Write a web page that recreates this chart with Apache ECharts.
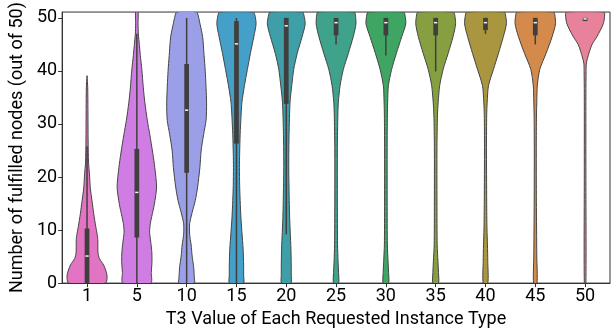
<!DOCTYPE html>
<html><head><meta charset="utf-8">
<script src="https://cdn.jsdelivr.net/npm/echarts@6/dist/echarts.min.js"></script>
<style>html,body{margin:0;padding:0;background:#fff}#c{width:613px;height:333px}</style>
</head><body><div id="c"></div>
<script>
const categories = ['1','5','10','15','20','25','30','35','40','45','50'];
const colors = ['#e374c4','#d07de3','#9a9fe8','#44a0c9','#3e9fa8','#3fa38c','#3fa563','#86a041','#a9963f','#d38a4a','#e8829a'];
const yTicks = [0,10,20,30,40,50];
const yTop = 51.1;

// violin outlines: [value, half-width density]
const violin1 = [[0,18.5],[1.5,20],[3.4,16.7],[4.6,12.5],[5.7,11],[8.2,10.8],[9.4,10],[10.6,8.8],[13.1,6.7],[15.5,5],[17.9,3.3],[20.4,2.5],[22.8,1.5],[26.6,1.1],[32.7,0.9],[36.8,0.7],[39.1,0]];
const violin5 = [[0,14],[2,14.5],[4.1,15.2],[5.9,15],[7.7,14],[9.6,12.8],[11.2,13.5],[12.6,15],[14.8,17.5],[18.1,19.8],[21.8,18],[24.5,16],[28,13],[30.7,10.5],[34.1,8],[36.8,6.5],[40.3,5],[42.9,3.5],[45,2.5],[47,1.5],[49.1,1.2],[51.1,1.2]];
const violin10 = [[0,7.7],[1,7.7],[3.1,7],[5.1,5.5],[7.2,4.5],[9.2,3],[11.2,3],[13.3,5.5],[15.6,8.7],[18.1,11],[21.8,13.3],[24.9,14.5],[28,17],[30.7,19.5],[34.1,20],[39.9,18.7],[42.9,17.5],[46.5,16],[48.8,13.5],[50.1,12],[51.1,10]];
const violin15 = [[0,7],[1.5,7.2],[3.4,7.2],[6.4,6.7],[9.6,5.5],[12.3,4.5],[15.6,3.7],[18.4,3.2],[21.8,3],[24.5,3.2],[28,3.7],[31.2,4.5],[34.1,5.5],[37.2,8],[40.3,11],[43.3,14],[46.5,17.5],[48.9,19.7],[50.7,18.3],[51.1,17]];
const violin20 = [[0,4.7],[1.5,5],[3.4,5],[6.4,4.7],[9.6,4],[12.3,3.4],[15.6,3],[21.8,2.5],[28,2.8],[34.1,3.8],[37.2,5.5],[40.3,7.5],[43.3,11],[46.5,16],[48.9,19],[50.7,17.5],[51.1,16.5]];
const violin25 = [[0,2.5],[2,2.5],[4.1,2],[7.2,1.5],[15.3,1.3],[25.6,1.3],[31.7,1.8],[34.1,2.3],[37.2,4],[40.3,7.3],[43.3,12.3],[46.5,17.3],[48.9,20],[50.7,19.3],[51.1,18.5]];
const violin30 = [[0,2.7],[2,2.7],[4.1,2.2],[7.2,1.5],[15.3,1.3],[25.6,1.3],[31.7,1.5],[34.1,1.8],[37.2,2.5],[40.3,5.8],[43.3,10.5],[46.5,16],[48.9,20],[50.7,19],[51.1,18]];
const violin35 = [[0,2.8],[2,2.8],[4.1,2.3],[7.2,1.5],[15.3,1.3],[25.6,1.3],[31.7,1.8],[34.1,2.5],[37.2,4],[40.3,7.5],[43.3,12.5],[46.5,17.5],[48.9,20],[50.7,19],[51.1,18]];
const violin40 = [[0,2.3],[4.1,2.3],[7.2,2],[10.2,1.5],[15.3,1.2],[25.6,1],[31.7,1.2],[34.1,1.7],[37.2,3],[40.3,8],[43.3,13],[46.5,18],[48.9,21],[50.7,20],[51.1,19]];
const violin45 = [[0,1.7],[5.1,1.5],[15.3,1.1],[25.6,1],[31.7,1.2],[34.1,1.5],[37.2,2],[40.3,4.5],[43.3,10.8],[46.5,17],[48.9,20.3],[50.7,19.5],[51.1,18.5]];
const violin50 = [[0,0.8],[20.4,0.8],[35.8,0.8],[39.9,1],[41.5,1.3],[43.3,3.8],[45,7],[46.5,12],[48.9,18.3],[50.7,19.7],[51.1,19]];

// inner box statistics
const q1 =          [0,    8.6,  20.8, 26.3, 33.8, 46.7, 46.7, 46.7, 47.7, 46.7, 49.4];
const median =      [5.1,  17.1, 32.6, 45.1, 48.5, 49.1, 49.1, 49.1, 49.1, 49.1, 49.8];
const q3 =          [10.3, 25.3, 41.3, 49.4, 50,   50,   50,   50,   50,   50,   50];
const whiskerLow =  [0,    0,    0,    0,    9.2,  45,   42.9, 39.9, 47,   45,   49.4];
const whiskerHigh = [25.8, 47,   50,   50,   50,   50,   50,   50,   50,   50,   50];

const violins = [violin1,violin5,violin10,violin15,violin20,violin25,violin30,violin35,violin40,violin45,violin50];

const FONT = 'Roboto';
const chart = echarts.init(document.getElementById('c'), null, {renderer:'canvas'});

function renderItem(params, api) {
  const i = params.dataIndex;
  const band = api.size([1, 0])[0];
  const k = band / 50;
  const cx = api.coord([i, 0])[0];
  const prof = violins[i];
  const right = prof.map(p => [cx + p[1] * k, api.coord([i, p[0]])[1]]);
  const left = prof.slice().reverse().map(p => [cx - p[1] * k, api.coord([i, p[0]])[1]]);
  const pts = right.concat(left);
  const yQ1 = api.coord([i, q1[i]])[1];
  const yQ3 = api.coord([i, q3[i]])[1];
  const yMed = api.coord([i, median[i]])[1];
  const yWL = api.coord([i, whiskerLow[i]])[1];
  const yWH = api.coord([i, whiskerHigh[i]])[1];
  const bw = band * 0.095;
  return {
    type: 'group',
    children: [
      { type: 'polygon', shape: { points: pts, smooth: 0.25 },
        style: { fill: colors[i], stroke: '#454545', lineWidth: 1 } },
      { type: 'line', shape: { x1: cx, y1: yWL, x2: cx, y2: yWH },
        style: { stroke: '#3f3f3f', lineWidth: 1.5 } },
      { type: 'rect', shape: { x: cx - bw / 2, y: yQ3, width: bw, height: Math.max(yQ1 - yQ3, 1) },
        style: { fill: '#3f3f3f' } },
      { type: 'line', shape: { x1: cx - bw * 0.35, y1: yMed, x2: cx + bw * 0.35, y2: yMed },
        style: { stroke: '#f2f2f2', lineWidth: 1.5 } }
    ]
  };
}

chart.setOption({
  animation: false,
  backgroundColor: '#fff',
  grid: { left: 61, right: 3, top: 8, bottom: 48, containLabel: false,
          show: true, borderColor: '#333', borderWidth: 1, backgroundColor: 'transparent' },
  xAxis: {
    type: 'category', data: categories, boundaryGap: true,
    name: 'T3 Value of Each Requested Instance Type', nameLocation: 'middle', nameGap: 26,
    nameTextStyle: { fontFamily: FONT, fontSize: 18, color: '#000' },
    axisLine: { show: true, lineStyle: { color: '#333', width: 1 } },
    axisTick: { show: true, alignWithLabel: true, length: 4, lineStyle: { color: '#333' } },
    axisLabel: { fontFamily: FONT, fontSize: 18, color: '#000', margin: 4 },
    splitLine: { show: false }
  },
  yAxis: {
    type: 'value', min: 0, max: yTop, interval: 10,
    name: 'Number of fulfilled nodes (out of 50)', nameLocation: 'middle', nameGap: 30,
    nameTextStyle: { fontFamily: FONT, fontSize: 18, color: '#000' },
    axisLine: { show: true, lineStyle: { color: '#333', width: 1 } },
    axisTick: { show: true, length: 4, lineStyle: { color: '#333' }, customValues: yTicks },
    axisLabel: { fontFamily: FONT, fontSize: 18, color: '#000', margin: 5, customValues: yTicks },
    splitLine: { show: false }
  },
  series: [{
    type: 'custom',
    renderItem: renderItem,
    data: categories.map((c, i) => [i]),
    encode: { x: 0 },
    clip: true,
    z: 2
  }]
});
</script></body></html>
